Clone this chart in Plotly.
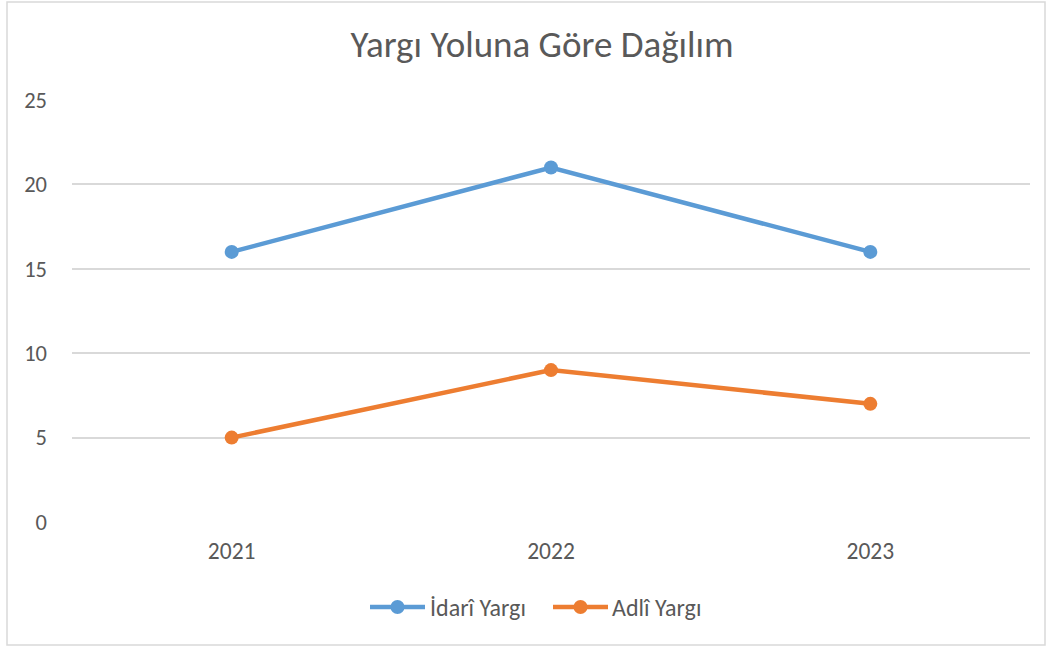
import plotly.graph_objects as go

years = ["2021", "2022", "2023"]
idari = [16, 21, 16]
adli = [5, 9, 7]
y_ticks = [0, 5, 10, 15, 20, 25]
series_names = ["İdarî Yargı", "Adlî Yargı"]
series_colors = ["#5B9BD5", "#ED7D31"]

FONT = "Carlito, 'Liberation Sans Narrow', Lato, 'Open Sans', sans-serif"
W, H = 1051, 648
L, R, T, B = 72, 21, 100, 126
pw, ph = W - L - R, H - T - B
GREY = "#595959"

def px_x(x):
    return (x - L) / pw

def px_y(y):
    return (H - B - y) / ph

fig = go.Figure()
for name, vals, col in zip(series_names, [idari, adli], series_colors):
    fig.add_trace(go.Scatter(x=years, y=vals, name=name, mode="lines+markers",
                             line=dict(color=col, width=4.5),
                             marker=dict(color=col, size=14), showlegend=False))

# custom legend (line + marker + label), positioned in pixels
shapes = [dict(type="rect", xref="paper", yref="paper",
               x0=px_x(7), x1=px_x(1045), y0=px_y(645), y1=px_y(2),
               line=dict(color="#D9D9D9", width=1.5), fillcolor="rgba(0,0,0,0)",
               layer="below")]
annotations = []
leg_y = 607
for (lx0, lx1, text_x), name, col in zip([(370, 425, 430), (553, 608, 612)],
                                         series_names, series_colors):
    shapes.append(dict(type="line", xref="paper", yref="paper",
                       x0=px_x(lx0), x1=px_x(lx1), y0=px_y(leg_y), y1=px_y(leg_y),
                       line=dict(color=col, width=4.5)))
    cx = (lx0 + lx1) / 2
    r = 7
    shapes.append(dict(type="circle", xref="paper", yref="paper",
                       x0=px_x(cx - r), x1=px_x(cx + r), y0=px_y(leg_y + r), y1=px_y(leg_y - r),
                       line=dict(color=col, width=0), fillcolor=col))
    annotations.append(dict(text=name, xref="paper", yref="paper", x=px_x(text_x - 2),
                            y=px_y(leg_y), xanchor="left", yanchor="middle", showarrow=False,
                            font=dict(family=FONT, size=24, color=GREY)))

fig.update_layout(
    width=W, height=H,
    margin=dict(l=L, r=R, t=T, b=B),
    paper_bgcolor="white", plot_bgcolor="white",
    font=dict(family=FONT, color=GREY, size=20),
    showlegend=False,
    title=dict(text="Yargı Yoluna Göre Dağılım", x=px_x(542), xanchor="center",
               xref="paper", y=1 - 44 / H, yanchor="middle",
               font=dict(family=FONT, size=37, color=GREY)),
    xaxis=dict(type="category", range=[-0.5, 2.5], showgrid=False, showline=False,
               zeroline=False, ticks="", tickfont=dict(size=23.5, color=GREY),
               ticklabelstandoff=12),
    yaxis=dict(range=[0, 25], tickvals=y_ticks, showgrid=True, gridcolor="#D9D9D9",
               gridwidth=1.5, zeroline=False, showline=False, ticks="",
               tickfont=dict(size=22.5, color=GREY), ticklabelstandoff=24),
    shapes=shapes,
    annotations=annotations,
)

fig.write_html("out.html", config={"displayModeBar": False},
               post_script="document.body.style.margin='0px';")
